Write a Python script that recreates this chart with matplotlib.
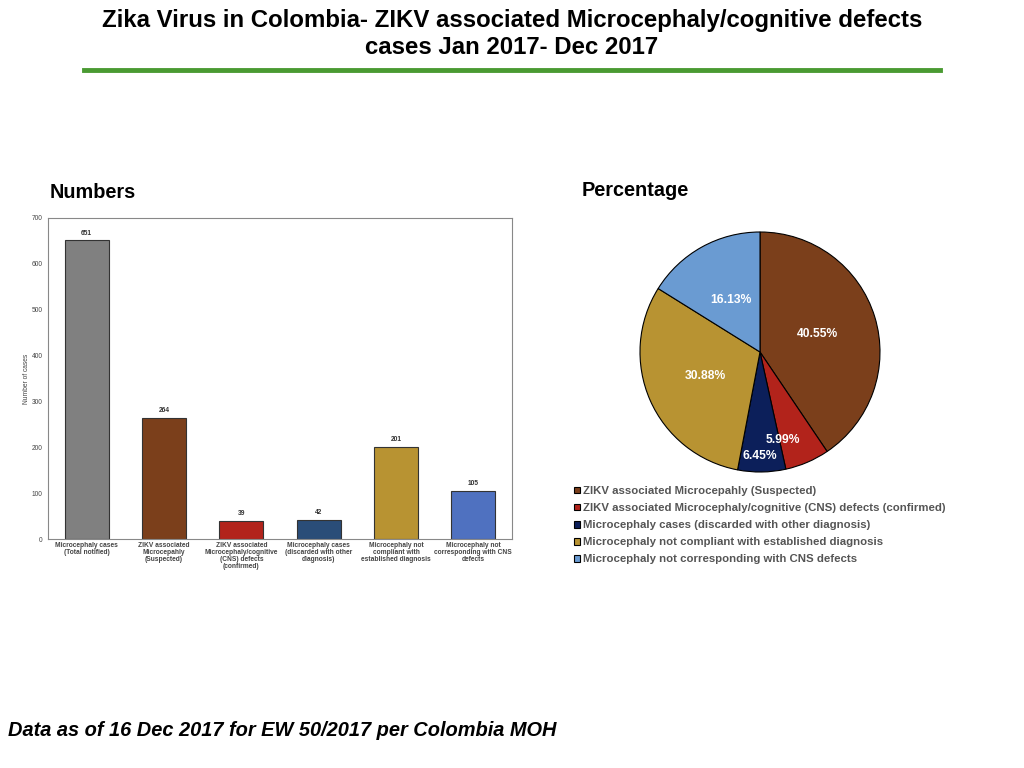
import matplotlib.pyplot as plt
import numpy as np

plt.rcParams["font.family"] = ["Liberation Sans", "DejaVu Sans"]

categories = ["Microcephaly cases\n(Total notified)",
              "ZIKV associated\nMicrocepahly\n(Suspected)",
              "ZIKV associated\nMicrocephaly/cognitive\n(CNS) defects\n(confirmed)",
              "Microcephaly cases\n(discarded with other\ndiagnosis)",
              "Microcephaly not\ncompliant with\nestablished diagnosis",
              "Microcephaly not\ncorresponding with CNS\ndefects"]
cases = [651, 264, 39, 42, 201, 105]
bar_colors = ["#808080", "#7b3f1b", "#b2231b", "#2a4d78", "#b89332", "#4f71c0"]

pie_labels = ["ZIKV associated Microcepahly (Suspected)",
              "ZIKV associated Microcephaly/cognitive (CNS) defects (confirmed)",
              "Microcephaly cases (discarded with other diagnosis)",
              "Microcephaly not compliant with established diagnosis",
              "Microcephaly not corresponding with CNS defects"]
pie_values = cases[1:]
pie_colors = ["#7b3f1b", "#b2231b", "#0c1f5a", "#b89332", "#6a9bd2"]

W, H = 1024, 768
fig = plt.figure(figsize=(W / 100, H / 100), dpi=100)

# title + green rule
fig.text(0.5, 1 - 21 / H, "Zika Virus in Colombia- ZIKV associated Microcephaly/cognitive defects",
         ha="center", va="center", fontsize=17.3, fontweight="bold")
fig.text(0.5, 1 - 48 / H, "cases Jan 2017- Dec 2017",
         ha="center", va="center", fontsize=17.3, fontweight="bold")
fig.add_artist(plt.Line2D([84 / W, 940 / W], [1 - 70 / H, 1 - 70 / H], color="#4a9a32", lw=3.5))

fig.text(50 / W, 1 - 193 / H, "Numbers", ha="left", va="center", fontsize=14.3, fontweight="bold")
fig.text(582 / W, 1 - 191 / H, "Percentage", ha="left", va="center", fontsize=14.3, fontweight="bold")

# bar chart
ax = fig.add_axes([48 / W, 1 - 539 / H, 464 / W, 321 / H])
x = np.arange(len(cases))
ax.bar(x, cases, width=0.57, color=bar_colors, edgecolor="#333333", linewidth=0.8)
for xi, v in zip(x, cases):
    ax.text(xi, v + 8, str(v), ha="center", va="bottom", fontsize=4.8, fontweight="bold", color="#333333")
ax.set_xlim(-0.5, len(cases) - 0.5)
ax.set_ylim(0, 700)
ax.set_yticks(range(0, 701, 100))
ax.tick_params(axis="y", labelsize=4.8, length=0, labelcolor="#444444", pad=4)
ax.set_xticks(x)
ax.set_xticklabels(categories, fontsize=4.8, fontweight="bold", color="#444444", linespacing=1.0)
ax.tick_params(axis="x", length=0, pad=2)
ax.set_ylabel("Number of cases", fontsize=4.8, color="#444444", labelpad=1)
for s in ax.spines.values():
    s.set_color("#888888")
    s.set_linewidth(0.8)

# pie chart
r = 120
axp = fig.add_axes([(760 - r) / W, 1 - (352 + r) / H, 2 * r / W, 2 * r / H])
wedges, texts, autotexts = axp.pie(pie_values, colors=pie_colors, startangle=90, counterclock=False,
                                   autopct="%1.2f%%", pctdistance=0.5,
                                   wedgeprops=dict(edgecolor="black", linewidth=0.8),
                                   textprops=dict(color="white", fontsize=8.7, fontweight="bold"))
autotexts[1].set_position((0.19, -0.73))
autotexts[2].set_position((0.0, -0.87))
axp.set_xlim(-1, 1)
axp.set_ylim(-1, 1)
axp.set_aspect("equal")

fig.legend(wedges, pie_labels, loc="upper left", bbox_to_anchor=(574 / W, 1 - 486 / H),
           frameon=False, handlelength=0.55, handleheight=0.55, handletextpad=0.25,
           labelspacing=0.62, borderpad=0, borderaxespad=0, prop=dict(size=8.2, weight="bold"),
           labelcolor="#555555")

fig.text(8 / W, 1 - 730 / H, "Data as of 16 Dec 2017 for EW 50/2017 per Colombia MOH",
         ha="left", va="center", fontsize=14.4, fontweight="bold", fontstyle="italic")

fig.savefig("out.png", dpi=100)
